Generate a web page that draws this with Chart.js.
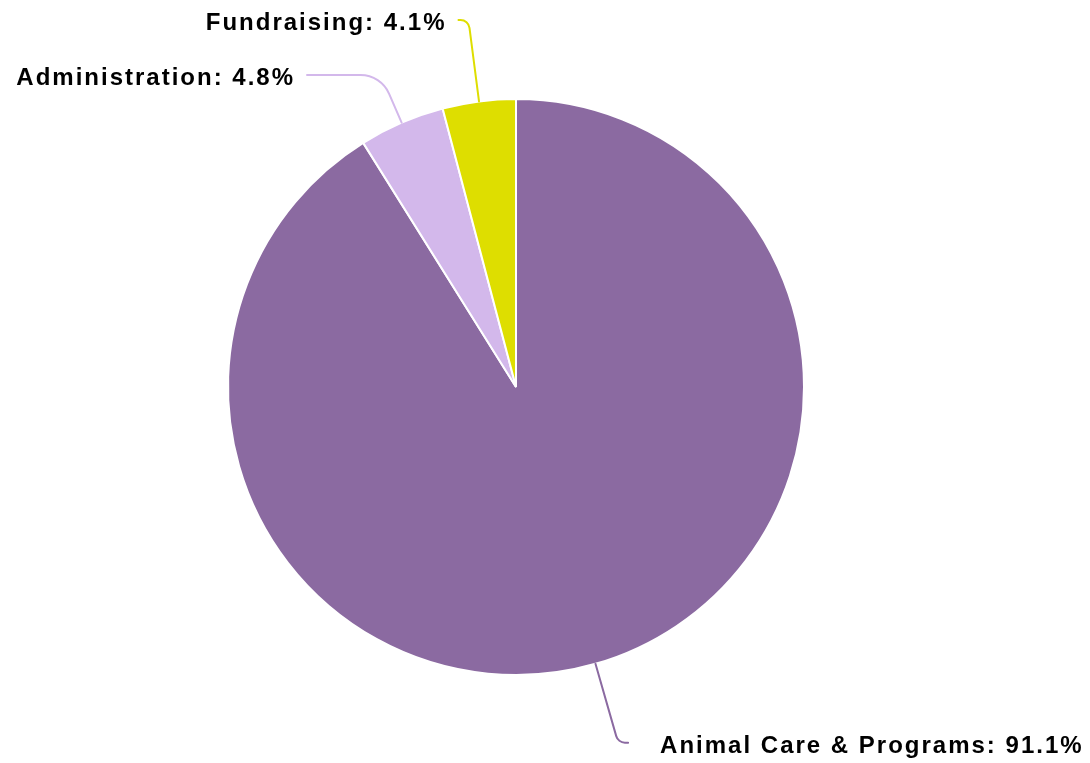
<!DOCTYPE html>
<html>
<head>
<meta charset="utf-8">
<title>Expense breakdown</title>
<script src="https://cdn.jsdelivr.net/npm/chart.js@4.4.1/dist/chart.umd.min.js"></script>
<style>
    html, body { margin: 0; padding: 0; background: #ffffff; }
    #wrap { width: 1090px; height: 763px; position: relative; }
</style>
</head>
<body>
<div id="wrap"><canvas id="chartExpenses"></canvas></div>
<script>
// Data
const categories = ['Animal Care & Programs', 'Administration', 'Fundraising'];
const shares = [91.1, 4.8, 4.1];
const sliceColors = ['#8b6aa1', '#d3b8eb', '#dede00'];

/**
 * Outside labels with bent leader lines, drawn after the arcs.
 */
const outsideLabels = {
    id: 'outsideLabels',
    afterDatasetsDraw(chart, args, opts) {
        const ctx = chart.ctx;
        const meta = chart.getDatasetMeta(0);
        const items = meta.data.map((arc, i) => {
            const { x, y, startAngle, endAngle, outerRadius } = arc.getProps(
                ['x', 'y', 'startAngle', 'endAngle', 'outerRadius'], true);
            const mid = (startAngle + endAngle) / 2;
            const dist = outerRadius + opts.distance;
            return {
                i, x, y, mid, r: outerRadius, dist,
                right: Math.cos(mid) >= 0,
                ly: y + dist * Math.sin(mid),
            };
        });

        // push overlapping labels down, per side
        [true, false].forEach(side => {
            const group = items.filter(it => it.right === side).sort((a, b) => a.ly - b.ly);
            for (let k = 1; k < group.length; k++) {
                if (group[k].ly - group[k - 1].ly < opts.minGap) {
                    group[k].ly = group[k - 1].ly + opts.minGap;
                }
            }
        });

        ctx.save();
        ctx.font = opts.font;
        ctx.letterSpacing = opts.letterSpacing;
        ctx.textBaseline = 'middle';
        items.forEach(it => {
            const dir = it.right ? 1 : -1;
            const ex = it.x + it.r * Math.cos(it.mid);
            const ey = it.y + it.r * Math.sin(it.mid);
            const dy = it.ly - it.y;
            const cx = it.x + dir * Math.sqrt(Math.max(it.dist * it.dist - dy * dy, 0)) + dir * 10;
            // corner: where the radial line from the edge meets the label row
            const t = (it.ly - ey) / Math.sin(it.mid);
            const kx = ex + t * Math.cos(it.mid);
            const horiz = Math.abs(cx - kx);
            const radial = Math.hypot(kx - ex, it.ly - ey);
            const rr = Math.max(Math.min(32, horiz * 0.9, radial * 0.6), 1);

            ctx.strokeStyle = sliceColors[it.i];
            ctx.lineWidth = 2;
            ctx.lineCap = 'round';
            ctx.beginPath();
            ctx.moveTo(cx, it.ly);
            ctx.arcTo(kx, it.ly, ex, ey, rr);
            ctx.lineTo(ex, ey);
            ctx.stroke();

            ctx.fillStyle = '#000000';
            ctx.textAlign = it.right ? 'left' : 'right';
            const tx = cx + dir * (it.right ? opts.gapRight : opts.gapLeft);
            ctx.fillText(categories[it.i] + ': ' + shares[it.i].toFixed(1) + '%', tx, it.ly + 3.5);
        });
        ctx.restore();
    },
};

const canvas = document.getElementById('chartExpenses');
canvas.width = 1090;
canvas.height = 763;

new Chart(canvas.getContext('2d'), {
    type: 'pie',
    data: {
        labels: categories,
        datasets: [{
            data: shares,
            backgroundColor: sliceColors,
            borderColor: '#ffffff',
            borderWidth: 2,
            radius: 288,
        }],
    },
    options: {
        responsive: false,
        animation: false,
        layout: { padding: { left: 0, right: 58, top: 11, bottom: 0 } },
        plugins: {
            legend: { display: false },
            tooltip: { enabled: false },
            outsideLabels: {
                distance: 82,
                minGap: 55,
                gapLeft: 12,
                gapRight: 32,
                font: 'bold 24px "Liberation Sans", Arial, sans-serif',
                letterSpacing: '2px',
            },
        },
    },
    plugins: [outsideLabels],
});
</script>
</body>
</html>
